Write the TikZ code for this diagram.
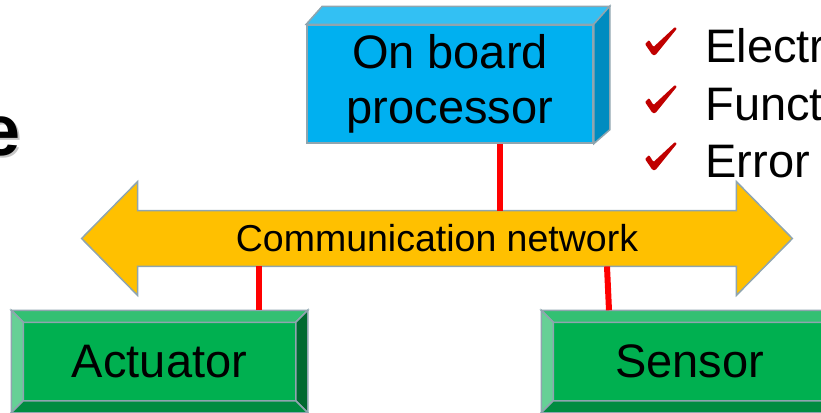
\documentclass[tikz,border=0pt]{standalone}
\usepackage{fontspec}
\setmainfont{Liberation Sans}
\usetikzlibrary{calc, backgrounds}

\definecolor{slate}{HTML}{8FA5AF}
\definecolor{procblue}{HTML}{00B0F0}
\definecolor{proctop}{HTML}{33C0F3}
\definecolor{procside}{HTML}{008CC0}
\definecolor{netorange}{HTML}{FFC000}
\definecolor{linkred}{HTML}{FF0000}
\definecolor{tickred}{HTML}{C00000}
\definecolor{unitgreen}{HTML}{00B050}
\definecolor{beveltop}{HTML}{33C073}
\definecolor{bevelleft}{HTML}{66D096}
\definecolor{bevelright}{HTML}{006A30}
\definecolor{bevelbottom}{HTML}{008C40}

\begin{document}
\begin{tikzpicture}[
    x=0.5pt, y=-0.5pt,
    edge/.style   ={draw=slate, line width=0.75pt},
    proc/.style   ={rectangle, edge, fill=procblue, inner sep=0pt, minimum width=143pt, minimum height=59pt, align=center, font=\fontsize{23.5}{27.5}\selectfont},
    unit/.style   ={rectangle, edge, fill=unitgreen, inner sep=0pt, minimum width=147.5pt, minimum height=50.5pt, font=\fontsize{23.5}{27.5}\selectfont},
    net/.style    ={rectangle, inner sep=0pt, minimum width=299pt, minimum height=27.5pt, font=\fontsize{18.75}{22}\selectfont},
    link/.style   ={draw=linkred, line width=3pt},
    heading/.style={anchor=base west, inner sep=0pt, font=\bfseries\fontsize{36}{36}\selectfont},
    item/.style   ={anchor=base west, inner sep=0pt, font=\fontsize{23.5}{27.5}\selectfont},
    tick/.pic     ={\fill[tickred, rounded corners=0.5pt] (0,17) -- (4,13) -- (8.5,20) -- (30,0) -- (32,1.5) -- (10.5,28) -- (7.5,28) -- cycle;},
]
\useasboundingbox (0,0) rectangle (821,413);

% heading (runs off the left edge)
\node[heading, text=gray!45] (titleshade) at (-18,157) {e};
\node[heading] (title) at (-20,155) {e};

% processor block with its top and side faces
\node[proc] (proc) at (450,84) {On board\\processor};
\filldraw[edge, fill=proctop] (proc.north west) -- ++(16,-18) -- ($(proc.north east)+(16,-18)$) -- (proc.north east) -- cycle;
\filldraw[edge, fill=procside] (proc.north east) -- ++(16,-18) -- ($(proc.south east)+(16,-14)$) -- (proc.south east) -- cycle;

% network bus as a double arrow
\node[net] (net) at (437,238.5) {Communication network};
\begin{scope}[on background layer]
  \filldraw[edge, fill=netorange] (net.north west) -- ++(0,-29) -- ($(net.west)+(-56,0)$) -- ($(net.south west)+(0,29)$) -- (net.south west)
    -- (net.south east) -- ++(0,29) -- ($(net.east)+(56,0)$) -- ($(net.north east)+(0,-29)$) -- (net.north east) -- cycle;
\end{scope}

% field units with bevelled edges
\node[unit] (act) at (159.5,361.5) {Actuator};
\node[unit] (sen) at (689.5,361.5) {Sensor};
\foreach \u in {act,sen} {
  \filldraw[edge, fill=beveltop]    (\u.north west) -- (\u.north east) -- ($(\u.north east)+(-12,12)$) -- ($(\u.north west)+(12,12)$) -- cycle;
  \filldraw[edge, fill=bevelleft]   (\u.north west) -- (\u.south west) -- ($(\u.south west)+(12,-12)$) -- ($(\u.north west)+(12,12)$) -- cycle;
  \filldraw[edge, fill=bevelright]  (\u.north east) -- (\u.south east) -- ($(\u.south east)+(-12,-12)$) -- ($(\u.north east)+(-12,12)$) -- cycle;
  \filldraw[edge, fill=bevelbottom] (\u.south west) -- (\u.south east) -- ($(\u.south east)+(-12,-12)$) -- ($(\u.south west)+(12,-12)$) -- cycle;
}

% links to the bus
\draw[link] (500,0 |- proc.south) -- (500,0 |- net.north);
\draw[link] (259,0 |- net.south) -- (259,0 |- act.north);
\draw[link] (607,0 |- net.south) -- (609,0 |- sen.north);

% check list
\foreach \txt/\yy [count=\i] in {Electr/62, Funct/120, Error/177} {
  \pic at (645,\yy-35) {tick};
  \node[item] (item\i) at (705,\yy) {\txt};
}
\end{tikzpicture}
\end{document}
